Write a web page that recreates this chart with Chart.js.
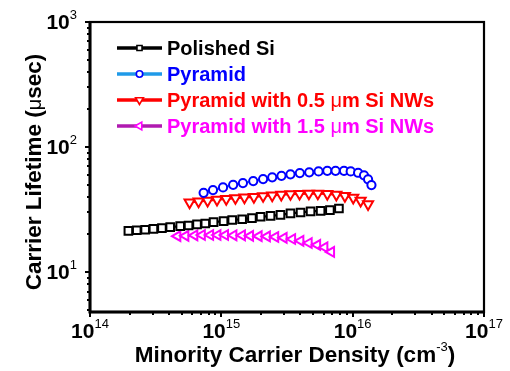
<!DOCTYPE html>
<html><head><meta charset="utf-8">
<script src="https://cdn.jsdelivr.net/npm/chart.js@4.4.1/dist/chart.umd.min.js"></script>
<style>html,body{margin:0;padding:0;background:#fff;}canvas{display:block;}</style>
</head><body>
<canvas id="c" width="510" height="371"></canvas>
<script>
// ---- data ----
const xTickExponents = [14, 15, 16, 17];
const yTickExponents = [1, 2, 3];
const seriesNames = ["Polished Si", "Pyramid", "Pyramid with 0.5 \u03bcm Si NWs", "Pyramid with 1.5 \u03bcm Si NWs"];

const polishedX = [1.96e14, 2.27e14, 2.63e14, 3.04e14, 3.53e14, 4.08e14, 4.86e14, 5.63e14, 6.53e14, 7.55e14, 8.73e14, 1.04e15, 1.21e15, 1.44e15, 1.71e15, 1.99e15, 2.37e15, 2.82e15, 3.36e15, 4.01e15, 4.78e15, 5.70e15, 6.71e15, 7.86e15];
const polishedY = [21.4, 21.6, 21.8, 22.2, 22.5, 22.9, 23.3, 23.6, 24.1, 24.5, 25.1, 25.6, 26.1, 26.5, 27.0, 27.7, 28.2, 28.7, 29.5, 30.0, 30.6, 30.9, 31.3, 32.3];

const pyramidX = [7.33e14, 8.64e14, 1.03e15, 1.23e15, 1.46e15, 1.75e15, 2.08e15, 2.44e15, 2.87e15, 3.36e15, 3.96e15, 4.67e15, 5.50e15, 6.41e15, 7.41e15, 8.59e15, 9.66e15, 1.10e16, 1.22e16, 1.31e16, 1.39e16];
const pyramidY = [43.1, 45.3, 47.6, 49.9, 51.5, 53.5, 55.5, 57.3, 58.9, 60.5, 61.9, 62.8, 63.9, 64.6, 64.6, 64.6, 63.9, 62.3, 59.4, 55.2, 49.7];

const nw05X = [5.73e14, 6.71e14, 7.86e14, 9.27e14, 1.09e15, 1.28e15, 1.50e15, 1.77e15, 2.08e15, 2.44e15, 2.86e15, 3.36e15, 3.94e15, 4.64e15, 5.43e15, 6.41e15, 7.51e15, 8.73e15, 1.01e16, 1.15e16, 1.31e16];
const nw05Y = [36.1, 36.8, 37.3, 37.9, 38.5, 39.1, 39.6, 40.0, 40.6, 41.1, 41.6, 42.1, 42.3, 42.5, 42.5, 42.2, 41.7, 40.7, 39.4, 37.3, 35.0];

const nw15X = [4.64e14, 5.34e14, 6.25e14, 7.13e14, 8.24e14, 9.37e14, 1.07e15, 1.24e15, 1.44e15, 1.66e15, 1.93e15, 2.23e15, 2.58e15, 2.99e15, 3.47e15, 4.01e15, 4.64e15, 5.38e15, 6.11e15, 6.87e15];
const nw15Y = [19.4, 19.5, 19.7, 19.8, 19.8, 19.8, 19.8, 19.7, 19.7, 19.5, 19.4, 19.3, 19.1, 18.8, 18.4, 17.8, 17.1, 16.5, 15.8, 14.5];

// ---- styles ----
const FONT = '"Liberation Sans", Arial, sans-serif';
const styles = [
  {line: '#000000', marker: '#000000', text: '#000000', shape: 'rect', rot: 0, r: 5.4, lr: 3.6},
  {line: '#1f9ae8', marker: '#0000ff', text: '#0000ff', shape: 'circle', rot: 0, r: 4.1, lr: 3.2},
  {line: '#ff0000', marker: '#ff0000', text: '#ff0000', shape: 'triangle', rot: 180, r: 5.8, lr: 4.5},
  {line: '#b01ab0', marker: '#ff00ff', text: '#ff00ff', shape: 'triangle', rot: 270, r: 5.6, lr: 4.5}
];
const xs = [polishedX, pyramidX, nw05X, nw15X];
const ys = [polishedY, pyramidY, nw05Y, nw15Y];

const datasets = xs.map((xv, k) => ({
  label: seriesNames[k],
  data: xv.map((x, i) => ({x: x, y: ys[k][i]})),
  showLine: true,
  borderColor: styles[k].line,
  borderWidth: 2.2,
  pointStyle: styles[k].shape,
  rotation: styles[k].rot,
  pointRadius: styles[k].r,
  pointBorderColor: styles[k].marker,
  pointBackgroundColor: '#ffffff',
  pointBorderWidth: 2,
  tension: 0
}));

function drawMarker(ctx, shape, rot, r, x, y, color) {
  ctx.save();
  ctx.beginPath();
  if (shape === 'circle') {
    ctx.arc(x, y, r, 0, Math.PI * 2);
  } else if (shape === 'rect') {
    const s = r * Math.SQRT1_2;
    ctx.rect(x - s, y - s, 2 * s, 2 * s);
  } else {
    let rad = rot * Math.PI / 180;
    ctx.moveTo(x + Math.sin(rad) * r, y - Math.cos(rad) * r);
    rad += 2 * Math.PI / 3;
    ctx.lineTo(x + Math.sin(rad) * r, y - Math.cos(rad) * r);
    rad += 2 * Math.PI / 3;
    ctx.lineTo(x + Math.sin(rad) * r, y - Math.cos(rad) * r);
    ctx.closePath();
  }
  ctx.fillStyle = '#fff';
  ctx.fill();
  ctx.strokeStyle = color;
  ctx.lineWidth = 1.6;
  ctx.stroke();
  ctx.restore();
}

function drawRuns(ctx, runs, x, y, color) {
  ctx.fillStyle = color;
  ctx.textAlign = 'left';
  ctx.textBaseline = 'alphabetic';
  let cx = x;
  for (const [t, f, dy] of runs) {
    ctx.font = f;
    ctx.fillText(t, cx, y + (dy || 0));
    cx += ctx.measureText(t).width;
  }
  return cx - x;
}
function runsWidth(ctx, runs) {
  let w = 0;
  for (const [t, f] of runs) { ctx.font = f; w += ctx.measureText(t).width; }
  return w;
}

const decor = {
  id: 'decor',
  afterDraw(chart) {
    const ctx = chart.ctx;
    const a = chart.chartArea;
    const sx = chart.scales.x, sy = chart.scales.y;
    ctx.save();
    ctx.strokeStyle = '#000';
    ctx.lineWidth = 2.2;
    ctx.strokeRect(a.left, a.top, a.right - a.left, a.bottom - a.top);
    ctx.lineWidth = 3;
    ctx.beginPath();
    ctx.moveTo(a.left, a.top); ctx.lineTo(a.left, a.bottom); ctx.lineTo(a.right, a.bottom);
    ctx.stroke();
    ctx.lineWidth = 2;
    ctx.beginPath();
    for (let e = 14; e <= 17; e++) {
      for (let m = 1; m <= 9; m++) {
        const v = m * Math.pow(10, e);
        if (v > sx.max * 1.0001) break;
        const px = Math.round(sx.getPixelForValue(v));
        const len = m === 1 ? 5 : 3;
        ctx.moveTo(px, a.bottom); ctx.lineTo(px, a.bottom + len);
      }
    }
    for (let e = 0; e <= 3; e++) {
      for (let m = 1; m <= 9; m++) {
        const v = m * Math.pow(10, e);
        if (v < sy.min || v > sy.max * 1.0001) continue;
        const py = Math.round(sy.getPixelForValue(v));
        const len = m === 1 ? 5 : 3;
        ctx.moveTo(a.left, py); ctx.lineTo(a.left - len, py);
      }
    }
    ctx.stroke();

    const bold20 = 'bold 20px ' + FONT;
    const bold21 = 'bold 21px ' + FONT;
    const exp13 = '13px ' + FONT;
    for (const e of xTickExponents) {
      const px = sx.getPixelForValue(Math.pow(10, e));
      const runs = [['10', bold21, 0], [String(e), exp13, -10]];
      const w = runsWidth(ctx, runs);
      drawRuns(ctx, runs, px - w / 2, 338, '#000');
    }
    for (const e of yTickExponents) {
      const py = sy.getPixelForValue(Math.pow(10, e));
      const runs = [['10', bold21, 0], [String(e), exp13, -10]];
      const w = runsWidth(ctx, runs);
      drawRuns(ctx, runs, 77 - w, py + 7, '#000');
    }
    const bold22 = 'bold 22.5px ' + FONT;
    const xr = [['Minority Carrier Density (cm', bold22, 0], ['-3', '13px ' + FONT, -11], [')', bold22, 0]];
    const xw = runsWidth(ctx, xr);
    drawRuns(ctx, xr, 295 - xw / 2, 362, '#000');
    const yr = [['Carrier Lifetime (', bold22, 0], ['\u03bc', '20px ' + FONT, 0], ['sec)', bold22, 0]];
    const yw = runsWidth(ctx, yr);
    ctx.save();
    ctx.translate(41, 172);
    ctx.rotate(-Math.PI / 2);
    drawRuns(ctx, yr, -yw / 2, 0, '#000');
    ctx.restore();

    const rowsY = [48, 74, 100, 126];
    const legendTexts = [
      [['Polished Si', bold20, 0]],
      [['Pyramid', bold20, 0]],
      [['Pyramid with 0.5 ', bold20, 0], ['\u03bc', '20px ' + FONT, 0], ['m Si NWs', bold20, 0]],
      [['Pyramid with 1.5 ', bold20, 0], ['\u03bc', '20px ' + FONT, 0], ['m Si NWs', bold20, 0]]
    ];
    for (let k = 0; k < 4; k++) {
      const y0 = rowsY[k];
      const st = styles[k];
      ctx.strokeStyle = st.line;
      ctx.lineWidth = 3.5;
      ctx.beginPath(); ctx.moveTo(117, y0); ctx.lineTo(162, y0); ctx.stroke();
      drawMarker(ctx, st.shape, st.rot, st.lr, 139.5, y0, st.marker);
      drawRuns(ctx, legendTexts[k], 167, y0 + 7, st.text);
    }
    ctx.restore();
  }
};

new Chart(document.getElementById('c'), {
  type: 'scatter',
  data: {datasets: datasets},
  options: {
    responsive: false,
    animation: false,
    events: [],
    layout: {padding: {left: 90, right: 26, top: 22, bottom: 59}},
    plugins: {legend: {display: false}, tooltip: {enabled: false}, title: {display: false}},
    scales: {
      x: {type: 'logarithmic', min: 1e14, max: 1e17, display: false},
      y: {type: 'logarithmic', min: 4.8, max: 1000, display: false}
    }
  },
  plugins: [decor]
});
</script>
</body></html>
